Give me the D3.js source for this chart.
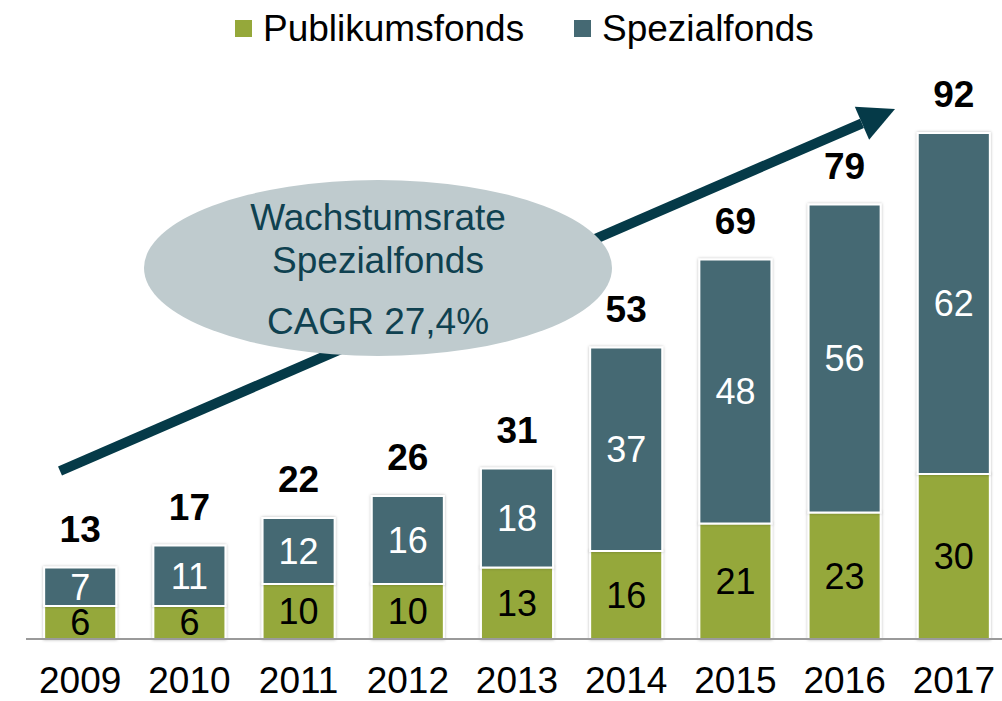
<!DOCTYPE html>
<html>
<head>
<meta charset="utf-8">
<script src="https://cdn.jsdelivr.net/npm/d3@7"></script>
<style>
  html, body { margin: 0; padding: 0; background: #fff; }
  svg { display: block; font-family: "Liberation Sans", Arial, sans-serif; }
</style>
</head>
<body>
<div id="chart"></div>
<script>
// Data
const years = ["2009", "2010", "2011", "2012", "2013", "2014", "2015", "2016", "2017"];
const publikumsfonds = [6, 6, 10, 10, 13, 16, 21, 23, 30];
const spezialfonds = [7, 11, 12, 16, 18, 37, 48, 56, 62];
const totals = [13, 17, 22, 26, 31, 53, 69, 79, 92];
const seriesNames = ["Publikumsfonds", "Spezialfonds"];
const calloutLines = ["Wachstumsrate", "Spezialfonds", "CAGR 27,4%"];

const width = 1002;
const height = 701;
const colorGreen = "#95a83a";
const colorTeal = "#456973";

const svg = d3.select("#chart")
              .append("svg")
              .attr("width", width)
              .attr("height", height);

// Soft shadow around the bars
const defs = svg.append("defs");
const shadow = defs.append("filter")
                   .attr("id", "shadow")
                   .attr("x", "-20%").attr("y", "-20%")
                   .attr("width", "140%").attr("height", "140%");
shadow.append("feDropShadow")
      .attr("dx", 0).attr("dy", 0)
      .attr("stdDeviation", 1.6)
      .attr("flood-color", "#000")
      .attr("flood-opacity", 0.28);

// Scales
const x = d3.scaleBand()
            .domain(years)
            .range([25.6, 25.6 + 109.2 * years.length])
            .paddingInner(0.34)
            .paddingOuter(0.17);

const y = d3.scaleLinear()
            .domain([0, 92])
            .range([639, 133]);

// Stack the two series
const table = years.map((yr, i) => ({
    year: yr,
    Publikumsfonds: publikumsfonds[i],
    Spezialfonds: spezialfonds[i]
}));
const stacked = d3.stack().keys(seriesNames)(table);
const color = d3.scaleOrdinal().domain(seriesNames).range([colorGreen, colorTeal]);

// Arrow (drawn under the ellipse)
const arrowStart = [60, 471];
const arrowTip = [895, 109];
const ang = Math.atan2(arrowTip[1] - arrowStart[1], arrowTip[0] - arrowStart[0]);
const headLen = 36, headHalf = 18;
const baseMid = [arrowTip[0] - headLen * Math.cos(ang), arrowTip[1] - headLen * Math.sin(ang)];
svg.append("line")
   .attr("x1", arrowStart[0]).attr("y1", arrowStart[1])
   .attr("x2", baseMid[0]).attr("y2", baseMid[1])
   .attr("stroke", "#053a48")
   .attr("stroke-width", 10);
svg.append("polygon")
   .attr("points", [
       arrowTip,
       [baseMid[0] - headHalf * Math.sin(ang), baseMid[1] + headHalf * Math.cos(ang)],
       [baseMid[0] + headHalf * Math.sin(ang), baseMid[1] - headHalf * Math.cos(ang)]
   ].map(p => p.join(",")).join(" "))
   .attr("fill", "#053a48");

// Callout ellipse
svg.append("ellipse")
   .attr("cx", 378).attr("cy", 268)
   .attr("rx", 234).attr("ry", 88)
   .attr("fill", "#bfcbce");

svg.selectAll("text.callout")
   .data(calloutLines)
   .enter()
   .append("text")
   .attr("class", "callout")
   .attr("x", 378)
   .attr("y", (d, i) => [230, 273, 334][i])
   .attr("text-anchor", "middle")
   .style("font-size", "37px")
   .style("fill", "#0f4150")
   .text(d => d);

// Bars
const layers = svg.selectAll("g.layer")
                  .data(stacked)
                  .enter()
                  .append("g")
                  .attr("class", "layer");

layers.selectAll("rect")
      .data(d => d.map(s => ({ s: s, key: d.key })))
      .enter()
      .append("rect")
      .attr("x", d => x(d.s.data.year))
      .attr("y", d => y(d.s[1]))
      .attr("width", x.bandwidth())
      .attr("height", d => y(d.s[0]) - y(d.s[1]))
      .attr("fill", d => color(d.key))
      .attr("stroke", "#fff")
      .attr("stroke-width", 2)
      .attr("filter", "url(#shadow)");

// Segment labels
layers.selectAll("text")
      .data(d => d.map(s => ({ s: s, key: d.key })))
      .enter()
      .append("text")
      .attr("x", d => x(d.s.data.year) + x.bandwidth() / 2)
      .attr("y", d => (y(d.s[0]) + y(d.s[1])) / 2)
      .attr("dy", "0.36em")
      .attr("text-anchor", "middle")
      .style("font-size", "36px")
      .style("fill", d => d.key === "Spezialfonds" ? "#fff" : "#000")
      .text(d => d.s[1] - d.s[0]);

// Totals on top
svg.selectAll("text.total")
   .data(years)
   .enter()
   .append("text")
   .attr("class", "total")
   .attr("x", d => x(d) + x.bandwidth() / 2)
   .attr("y", (d, i) => y(totals[i]) - 26)
   .attr("text-anchor", "middle")
   .style("font-size", "37px")
   .style("font-weight", "bold")
   .style("fill", "#000")
   .text((d, i) => totals[i]);

// Baseline
svg.append("line")
   .attr("x1", 26).attr("x2", 1002)
   .attr("y1", y(0)).attr("y2", y(0))
   .attr("stroke", "#9a9a9a")
   .attr("stroke-width", 2);

// Year axis
const xAxis = svg.append("g")
                 .attr("transform", `translate(0,${y(0)})`)
                 .call(d3.axisBottom(x).tickSize(0).tickPadding(54));
xAxis.select(".domain").remove();
xAxis.selectAll("text")
     .attr("dy", 0)
     .style("font-size", "37px")
     .style("font-family", "'Liberation Sans', Arial, sans-serif")
     .style("fill", "#000");

// Legend
const legend = svg.append("g");
const legendItems = legend.selectAll("g")
                          .data(seriesNames)
                          .enter()
                          .append("g")
                          .attr("transform", (d, i) => `translate(${[235, 574][i]},0)`);
legendItems.append("rect")
           .attr("x", 0).attr("y", 20)
           .attr("width", 17).attr("height", 17)
           .attr("fill", d => color(d));
legendItems.append("text")
           .attr("x", 28).attr("y", 41)
           .style("font-size", "37px")
           .style("fill", "#000")
           .text(d => d);
</script>
</body>
</html>
